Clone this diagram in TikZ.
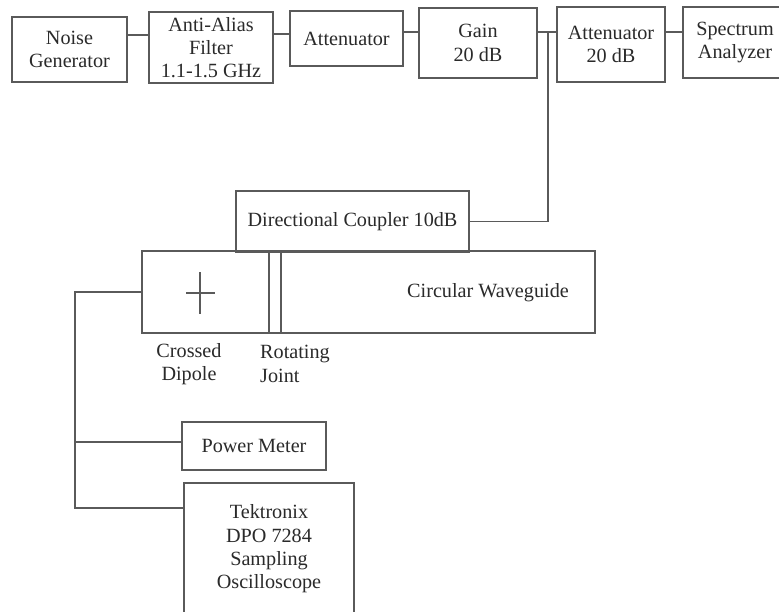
\documentclass[tikz,border=0pt]{standalone}
\usepackage{fontspec}
\setmainfont{Liberation Serif}
\definecolor{linegray}{HTML}{5A5A5A}
\definecolor{textgray}{HTML}{2A2A2A}
\begin{document}
\begin{tikzpicture}[x=1pt,y=-1pt,
  box/.style={draw=linegray,line width=1.1pt,rectangle,inner sep=0pt,align=center,
    text=textgray,font=\fontsize{20.2}{23.3}\selectfont},
  wire/.style={draw=linegray,line width=1.1pt},
  lbl/.style={text=textgray,font=\fontsize{20.2}{23.3}\selectfont,inner sep=0pt}]
\useasboundingbox (0,0) rectangle (779,611);
\clip (0,0) rectangle (779,611);
\fill[white] (0,0) rectangle (779,611);
% top chain
\node[box,minimum width=115,minimum height=65] (noise) at (69.5,49.5) {Noise\\Generator};
\node[box,minimum width=124,minimum height=71] (filter) at (211,47.5) {Anti-Alias\\Filter\\1.1-1.5 GHz};
\node[box,minimum width=113,minimum height=55] (att1) at (346.5,38.5) {Attenuator};
\node[box,minimum width=118,minimum height=70] (gain) at (478,43) {Gain\\20 dB};
\node[box,minimum width=108,minimum height=75] (att2) at (611,44.5) {Attenuator\\20 dB};
\node[box,minimum width=104,minimum height=71] (spec) at (735,42.5) {Spectrum\\Analyzer};
\draw[wire] (noise.east |- 0,35) -- (filter.west |- 0,35);
\draw[wire] (filter.east |- 0,34) -- (att1.west |- 0,34);
\draw[wire] (att1.east |- 0,32) -- (gain.west |- 0,32);
\draw[wire] (gain.east |- 0,32) -- (att2.west |- 0,32);
\draw[wire] (att2.east |- 0,32) -- (spec.west |- 0,32);
% coupler
\node[box,minimum width=233,minimum height=61] (coupler) at (352.5,221.5) {Directional Coupler 10dB};
\coordinate (tap) at (548,32);
\draw[wire] (tap) -- (tap |- coupler.east) -- (coupler.east);
% waveguide
\node[box,minimum width=453,minimum height=82] (wg) at (368.5,292) {};
\node[lbl] (wgtext) at (488,293) {Circular Waveguide};
\draw[wire] (269,251) -- (269,333);
\draw[wire] (281,251) -- (281,333);
\draw[wire] (186,293) -- (215,293);
\draw[wire] (200,272) -- (200,314);
\node[lbl,align=center] (dipole) at (189,364) {Crossed\\Dipole};
\node[lbl,align=left,anchor=west] (joint) at (260,364) {Rotating\\Joint};
% instruments
\node[box,minimum width=144,minimum height=48] (pm) at (254,446) {Power Meter};
\node[box,minimum width=170,minimum height=170] (osc) at (269,568) {};
\node[lbl,align=center] (osctext) at (269,549) {Tektronix\\DPO 7284\\Sampling\\Oscilloscope};
\coordinate (bus) at (75,292);
\draw[wire] (wg.west |- bus) -- (bus) -- (75,508) -- (osc.west |- 0,508);
\draw[wire] (75,442) -- (pm.west |- 0,442);
\end{tikzpicture}
\end{document}
